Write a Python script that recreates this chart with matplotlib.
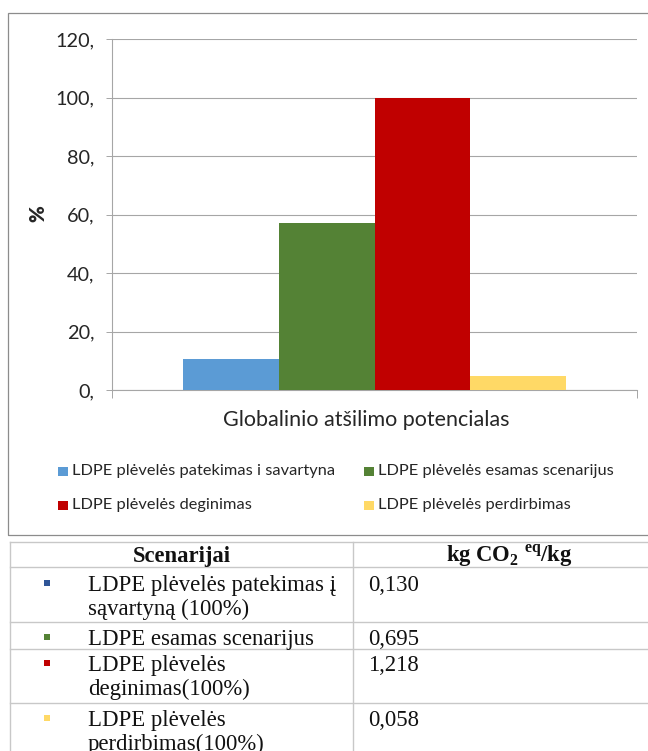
import matplotlib
matplotlib.use("Agg")
import matplotlib.pyplot as plt
from matplotlib.patches import Rectangle
from matplotlib.lines import Line2D

# ---- data ----
category = "Globalinio atšilimo potencialas"
series_labels = [
    "LDPE plėvelės patekimas i savartyna",
    "LDPE plėvelės esamas scenarijus",
    "LDPE plėvelės deginimas",
    "LDPE plėvelės perdirbimas",
]
series_values = [10.7, 57.1, 100.0, 4.8]
series_colors = ["#5B9BD5", "#548235", "#C00000", "#FFD966"]
y_ticks = [0, 20, 40, 60, 80, 100, 120]
y_tick_labels = ["0,", "20,", "40,", "60,", "80,", "100,", "120,"]

table_header = ["Scenarijai", r"kg CO$_{\mathbf{2}}$ $^{\mathrm{eq}}$/kg"]
table_rows = [
    ["LDPE plėvelės patekimas į", "sąvartyną (100%)"],
    ["LDPE esamas scenarijus"],
    ["LDPE plėvelės", "deginimas(100%)"],
    ["LDPE plėvelės", "perdirbimas(100%)"],
]
table_values = ["0,130", "0,695", "1,218", "0,058"]
bullet_colors = ["#2F5597", "#548235", "#C00000", "#FFD966"]

W, H = 648, 751
plt.rcParams["mathtext.fontset"] = "custom"
plt.rcParams["mathtext.rm"] = "Liberation Serif:bold"
plt.rcParams["mathtext.bf"] = "Liberation Serif:bold"

fig = plt.figure(figsize=(W / 100, H / 100), dpi=100)
fig.patch.set_facecolor("white")


def fx(x):
    return x / W


def fy(y):
    return 1 - y / H


sans = "Lato"
serif = "Liberation Serif"
grid_c = "#A6A6A6"
txt_c = "#262626"

# chart frame
fig.patches.append(Rectangle((fx(8), fy(535)), fx(660) - fx(8), fy(13) - fy(535),
                             transform=fig.transFigure, fill=False,
                             edgecolor="#8C8C8C", linewidth=0.9))

# plot area
ax = fig.add_axes([fx(112), fy(390), fx(637) - fx(112), fy(39) - fy(390)])
n = len(series_values)
bw = 0.182
for i, (v, c) in enumerate(zip(series_values, series_colors)):
    ax.bar((i - (n - 1) / 2) * bw, v, width=bw, color=c, zorder=3)
ax.set_xlim(-0.5, 0.5)
ax.set_ylim(0, 120)
ax.set_yticks(y_ticks)
ax.set_yticklabels(y_tick_labels, fontfamily=sans, fontsize=14.3, color=txt_c)
ax.set_xticks([-0.5, 0.5])
ax.set_xticklabels(["", ""])
ax.tick_params(axis="y", length=4.3, width=0.7, color=grid_c, pad=8.5)
ax.tick_params(axis="x", length=5.8, width=0.7, color=grid_c)
ax.grid(axis="y", color=grid_c, linewidth=0.8, zorder=0)
for s in ["top", "right"]:
    ax.spines[s].set_visible(False)
for s in ["left", "bottom"]:
    ax.spines[s].set_color(grid_c)
    ax.spines[s].set_linewidth(0.8)
ax.set_facecolor("none")

fig.text(fx(38), fy(214), "%", rotation=90, ha="center", va="center",
         fontfamily=sans, fontsize=14.5, fontweight="heavy", color=txt_c)
fig.text(fx(366), fy(420), category, ha="center", va="center",
         fontfamily=sans, fontsize=15.5, color=txt_c)

# legend
leg_pos = [(58, 471), (364, 471), (58, 505), (364, 505)]
for (lx, ly), lab, c in zip(leg_pos, series_labels, series_colors):
    fig.patches.append(Rectangle((fx(lx), fy(ly + 4.5)), fx(9.5), 9 / H,
                                 transform=fig.transFigure, facecolor=c,
                                 edgecolor="none"))
    fig.text(fx(lx + 14), fy(ly), lab, ha="left", va="center",
             fontfamily=sans, fontsize=11.8, color=txt_c)

# table grid
line_c = "#C8C8C8"
for y in [542, 567, 622, 649, 703]:
    fig.add_artist(Line2D([fx(10), fx(660)], [fy(y), fy(y)],
                          transform=fig.transFigure, color=line_c, linewidth=1.0))
for x in [10, 353]:
    fig.add_artist(Line2D([fx(x), fx(x)], [fy(542), fy(760)],
                          transform=fig.transFigure, color=line_c, linewidth=1.0))

fig.text(fx(182), fy(562), table_header[0], ha="center", va="baseline",
         fontfamily=serif, fontsize=16.3, fontweight="bold", color="#111111")
fig.text(fx(509), fy(562), table_header[1], ha="center", va="baseline",
         fontfamily=serif, fontsize=16.3, fontweight="bold", color="#111111")

first_baselines = [591, 645, 671, 726]
line_gap = 24
for lines, val, bc, b0 in zip(table_rows, table_values, bullet_colors, first_baselines):
    fig.patches.append(Rectangle((fx(43.5), fy(b0 - 5)), fx(6), 6 / H,
                                 transform=fig.transFigure, facecolor=bc,
                                 edgecolor="none"))
    for k, t in enumerate(lines):
        fig.text(fx(88), fy(b0 + k * line_gap), t, ha="left", va="baseline",
                 fontfamily=serif, fontsize=16.4, color="#111111")
    fig.text(fx(368), fy(b0), val, ha="left", va="baseline",
             fontfamily=serif, fontsize=16.4, color="#111111")

fig.savefig("out.png", dpi=100, facecolor="white")
